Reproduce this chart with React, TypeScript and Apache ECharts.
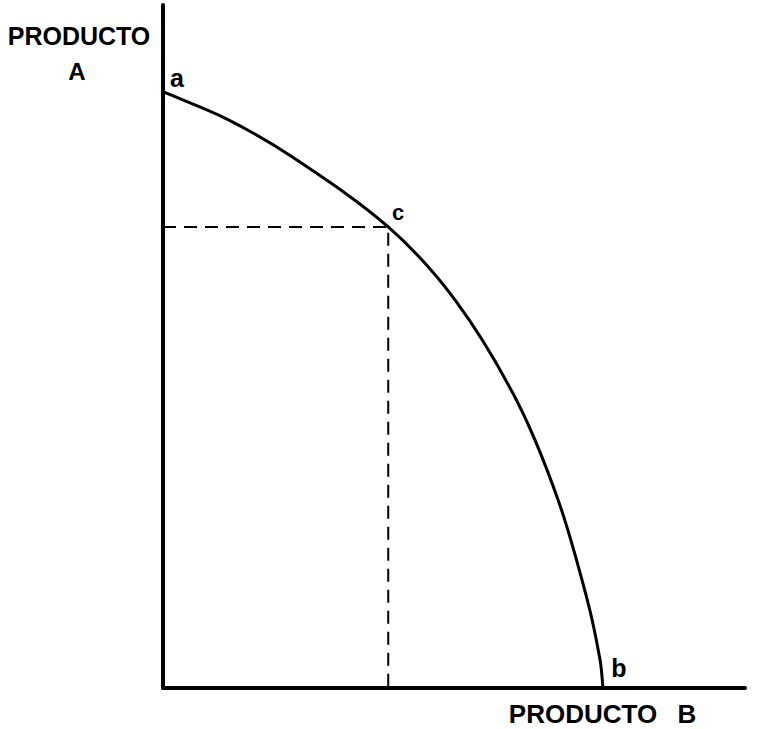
import React, { useEffect, useRef } from "react";
import * as echarts from "echarts";

// Production possibility frontier (x = Producto B, y = Producto A), 0..100 scale
const frontierB = [0, 11.0, 22.3, 38.7, 50.2, 60.7, 67.9, 72.9, 75.1, 75.6];
const frontierA = [87.3, 83.3, 77.7, 67.5, 56.8, 42.2, 27.5, 12.9, 4.1, 0];
const pointC = [38.7, 67.5];
const axisNames = ["PRODUCTO", "A", "PRODUCTO", "B"];
const pointLabels = ["a", "c", "b"];

export default function App() {
  const ref = useRef<HTMLDivElement>(null);
  useEffect(() => {
    if (!ref.current) return;
    const chart = echarts.init(ref.current, null, { renderer: "svg" });
    const font = "Liberation Sans";
    const txt = (text: string, x: number, y: number, size: number) => ({
      type: "text",
      x,
      y,
      style: {
        text,
        fontFamily: font,
        fontWeight: "bold",
        fontSize: size,
        fill: "#000",
        align: "center",
        verticalAlign: "middle",
      },
    });
    const renderCurve = (params: any, api: any) => {
      const pts = frontierB.map((b, i) => api.coord([b, frontierA[i]]));
      const n = pts.length;
      const dist = (p: number[], q: number[]) => Math.hypot(q[0] - p[0], q[1] - p[1]);
      const tangents = pts.map((p, i) => {
        const a = pts[Math.max(0, i - 1)];
        const b = pts[Math.min(n - 1, i + 1)];
        const d = dist(a, b) || 1;
        return [(b[0] - a[0]) / d, (b[1] - a[1]) / d];
      });
      let d = `M${pts[0][0]},${pts[0][1]}`;
      for (let i = 0; i < n - 1; i++) {
        const p = pts[i];
        const q = pts[i + 1];
        const len = dist(p, q) / 3;
        const c1 = [p[0] + tangents[i][0] * len, p[1] + tangents[i][1] * len];
        const c2 = [q[0] - tangents[i + 1][0] * len, q[1] - tangents[i + 1][1] * len];
        d += ` C${c1[0]},${c1[1]} ${c2[0]},${c2[1]} ${q[0]},${q[1]}`;
      }
      return {
        type: "path",
        shape: { pathData: d },
        style: { stroke: "#000", lineWidth: 3, fill: "none" },
      };
    };
    chart.setOption({
      animation: false,
      backgroundColor: "#fff",
      grid: { left: 163, top: 5, right: 16, bottom: 41 },
      xAxis: {
        type: "value",
        min: 0,
        max: 100,
        axisLine: { show: true, onZero: false, lineStyle: { color: "#000", width: 4 } },
        axisTick: { show: false },
        axisLabel: { show: false },
        splitLine: { show: false },
      },
      yAxis: {
        type: "value",
        min: 0,
        max: 100,
        axisLine: { show: true, onZero: false, lineStyle: { color: "#000", width: 4 } },
        axisTick: { show: false },
        axisLabel: { show: false },
        splitLine: { show: false },
      },
      series: [
        {
          type: "custom",
          renderItem: renderCurve,
          data: [[frontierB[0], frontierA[0]]],
          clip: false,
          z: 3,
        },
        {
          type: "line",
          data: [
            [0, pointC[1]],
            [pointC[0], pointC[1]],
            [pointC[0], 0],
          ],
          symbol: "none",
          lineStyle: { color: "#000", width: 2, type: [13, 8] },
          z: 2,
        },
      ],
      graphic: [
        txt(axisNames[0], 79, 36, 25),
        txt(axisNames[1], 77, 71, 24),
        txt(axisNames[2], 583, 714, 26),
        txt(axisNames[3], 687, 714, 26),
        txt(pointLabels[0], 177, 78, 25),
        txt(pointLabels[1], 398, 212, 22),
        txt(pointLabels[2], 619, 668, 25),
      ],
    });
    return () => chart.dispose();
  }, []);
  return (
    <div
      ref={ref}
      style={{ position: "fixed", left: 0, top: 0, width: 761, height: 729 }}
    />
  );
}
